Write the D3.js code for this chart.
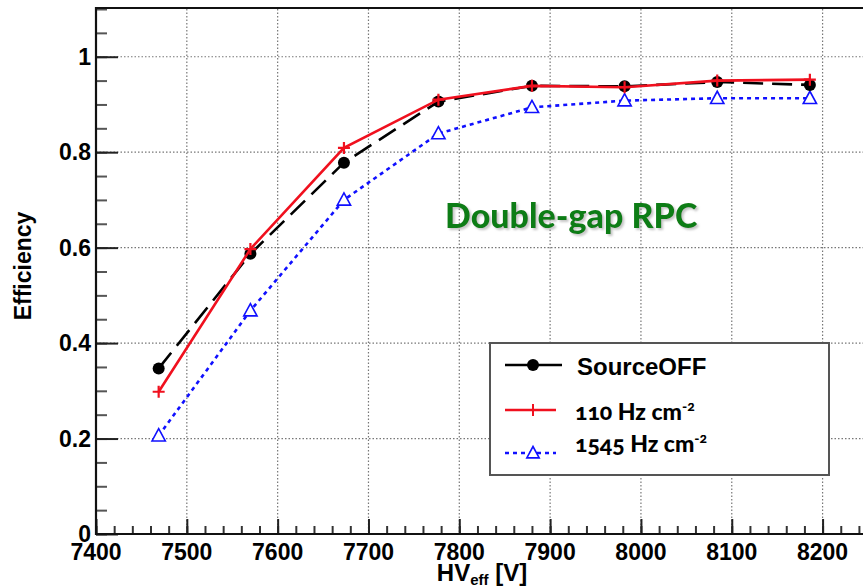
<!DOCTYPE html>
<html>
<head>
<meta charset="utf-8">
<script src="https://cdn.jsdelivr.net/npm/d3@7"></script>
<style>
  html, body { margin: 0; padding: 0; background: #fff; }
  svg { display: block; }
  .tick-label { font-family: "Liberation Sans", Arial, Helvetica, sans-serif; font-weight: bold; font-size: 23px; fill: #000; }
  .axis-title { font-family: "Liberation Sans", Arial, Helvetica, sans-serif; font-weight: bold; fill: #000; }
  .callout { font-family: Lato, "Open Sans", sans-serif; font-weight: bold; }
</style>
</head>
<body>
<svg id="chart" width="863" height="588"></svg>
<script>
// High voltage settings (effective HV, volts)
const hvEff = [7469, 7570, 7673, 7777, 7880, 7982, 8084, 8186];

// Efficiency per irradiation condition
const effSourceOff = [0.347, 0.587, 0.778, 0.906, 0.939, 0.938, 0.947, 0.941];
const eff110 = [0.298, 0.597, 0.809, 0.910, 0.939, 0.936, 0.950, 0.952];
const eff1545 = [0.206, 0.468, 0.700, 0.839, 0.894, 0.908, 0.913, 0.913];

// Axis ticks
const xMajorTicks = [7400, 7500, 7600, 7700, 7800, 7900, 8000, 8100, 8200];
const yMajorTicks = [0, 0.2, 0.4, 0.6, 0.8, 1];
const yTickLabels = ["0", "0.2", "0.4", "0.6", "0.8", "1"];

// Legend entries
const legendLabels = ["SourceOFF", "110 Hz cm", "1545 Hz cm"];
const legendSup = ["", "-2", "-2"];

const svg = d3.select("#chart");
const frameL = 96, frameR = 868, frameT = 9, frameB = 534;

const x = d3.scaleLinear().domain([7400, 8250]).range([frameL, frameR]);
const y = d3.scaleLinear().domain([0, 1.1]).range([frameB, frameT]);

// Soft shadow for the callout text
const defs = svg.append("defs");
defs.append("filter").attr("id", "soft-shadow")
  .attr("x", "-5%").attr("y", "-20%").attr("width", "115%").attr("height", "150%")
  .append("feDropShadow")
  .attr("dx", 2).attr("dy", 2).attr("stdDeviation", 1)
  .attr("flood-color", "#999").attr("flood-opacity", 0.55);

// Grid lines
const grid = svg.append("g");
grid.selectAll("line.gx").data(xMajorTicks.slice(1)).join("line")
  .attr("class", "gx")
  .attr("x1", d => x(d)).attr("x2", d => x(d))
  .attr("y1", frameT).attr("y2", frameB)
  .attr("stroke", "#777").attr("stroke-width", 1.2).attr("stroke-dasharray", "1.5,2");
grid.selectAll("line.gy").data(yMajorTicks.slice(1)).join("line")
  .attr("class", "gy")
  .attr("x1", frameL).attr("x2", frameR)
  .attr("y1", d => y(d)).attr("y2", d => y(d))
  .attr("stroke", "#777").attr("stroke-width", 1.2).attr("stroke-dasharray", "1.5,2");

// Axes (inward ticks)
const xAxisMajor = d3.axisTop(x).tickValues(xMajorTicks).tickSize(15).tickFormat("");
const xAxisMinor = d3.axisTop(x).tickValues(d3.range(7400, 8260, 20)).tickSize(8).tickFormat("");
const yAxisMajor = d3.axisRight(y).tickValues(yMajorTicks).tickSize(22).tickFormat("");
const yAxisMinor = d3.axisRight(y).tickValues(d3.range(0, 1.101, 0.05)).tickSize(11).tickFormat("");

function styleAxis(g, color) {
  g.select(".domain").remove();
  g.selectAll(".tick line").attr("stroke", color).attr("stroke-width", 2);
}
svg.append("g").attr("transform", `translate(0,${frameB})`).call(xAxisMinor).call(g => styleAxis(g, "#333"));
svg.append("g").attr("transform", `translate(0,${frameB})`).call(xAxisMajor).call(g => styleAxis(g, "#222"));
svg.append("g").attr("transform", `translate(${frameL},0)`).call(yAxisMinor).call(g => styleAxis(g, "#555"));
svg.append("g").attr("transform", `translate(${frameL},0)`).call(yAxisMajor).call(g => styleAxis(g, "#222"));

// Frame
svg.append("path")
  .attr("d", `M${frameR},${frameT - 1}H${frameL}V${frameB}H${frameR}`)
  .attr("fill", "none").attr("stroke", "#111").attr("stroke-width", 2.2);

// Tick labels
svg.append("g").selectAll("text").data(xMajorTicks).join("text")
  .attr("class", "tick-label")
  .attr("x", d => x(d)).attr("y", 560)
  .attr("text-anchor", "middle")
  .text(d => d);
svg.append("g").selectAll("text").data(yMajorTicks).join("text")
  .attr("class", "tick-label")
  .attr("x", 91).attr("y", d => y(d) + 8)
  .attr("text-anchor", "end")
  .text((d, i) => yTickLabels[i]);

// Axis titles
const xt = svg.append("text").attr("class", "axis-title")
  .attr("x", 482).attr("y", 581).attr("text-anchor", "middle")
  .style("font-size", "24px");
xt.append("tspan").text("HV");
xt.append("tspan").attr("dy", 4).style("font-size", "15px").text("eff");
xt.append("tspan").attr("dy", -4).text(" [V]");

svg.append("text").attr("class", "axis-title")
  .attr("transform", "translate(31,266) rotate(-90)")
  .attr("text-anchor", "middle")
  .style("font-size", "23px")
  .text("Efficiency");

// Series
const line = d3.line().x(d => x(d[0])).y(d => y(d[1]));
const pts = vals => hvEff.map((h, i) => [h, vals[i]]);

const triPath = (cx, cy, s) => `M${cx},${cy - s}L${cx + s * 0.95},${cy + s * 0.75}L${cx - s * 0.95},${cy + s * 0.75}Z`;
const plusPath = (cx, cy, s) => `M${cx - s},${cy}H${cx + s}M${cx},${cy - s}V${cy + s}`;

// 1545 Hz/cm2: blue dotted with open triangles
svg.append("path").datum(pts(eff1545)).attr("d", line)
  .attr("fill", "none").attr("stroke", "#1010ff").attr("stroke-width", 2.6)
  .attr("stroke-dasharray", "4,4");
svg.append("g").selectAll("path").data(pts(eff1545)).join("path")
  .attr("d", d => triPath(x(d[0]), y(d[1]), 7))
  .attr("fill", "#fff").attr("stroke", "#1010ff").attr("stroke-width", 1.6);

// Source OFF: black long-dashed with filled circles
svg.append("path").datum(pts(effSourceOff)).attr("d", line)
  .attr("fill", "none").attr("stroke", "#000").attr("stroke-width", 2.6)
  .attr("stroke-dasharray", "20,9");
svg.append("g").selectAll("circle").data(pts(effSourceOff)).join("circle")
  .attr("cx", d => x(d[0])).attr("cy", d => y(d[1])).attr("r", 6)
  .attr("fill", "#000");

// 110 Hz/cm2: red solid with plus markers
svg.append("path").datum(pts(eff110)).attr("d", line)
  .attr("fill", "none").attr("stroke", "#f0101e").attr("stroke-width", 2.6);
svg.append("g").selectAll("path").data(pts(eff110)).join("path")
  .attr("d", d => plusPath(x(d[0]), y(d[1]), 6))
  .attr("fill", "none").attr("stroke", "#f0101e").attr("stroke-width", 2.2);

// Callout label
svg.append("text").attr("class", "callout")
  .attr("x", 445).attr("y", 228)
  .attr("fill", "#0f7d14")
  .attr("filter", "url(#soft-shadow)")
  .style("font-size", "34px").style("font-weight", 900)
  .text("Double-gap RPC");

// Legend
const lg = svg.append("g");
lg.append("rect").attr("x", 490).attr("y", 343).attr("width", 339).attr("height", 132)
  .attr("fill", "#fff").attr("stroke", "#555").attr("stroke-width", 2);

const rows = [365, 410, 453];
// SourceOFF
lg.append("line").attr("x1", 505).attr("x2", 562).attr("y1", rows[0]).attr("y2", rows[0])
  .attr("stroke", "#000").attr("stroke-width", 2.6);
lg.append("circle").attr("cx", 533).attr("cy", rows[0]).attr("r", 6).attr("fill", "#000");
lg.append("text").attr("class", "axis-title").attr("x", 577).attr("y", 375)
  .style("font-size", "24px").text(legendLabels[0]);
// 110
lg.append("line").attr("x1", 505).attr("x2", 556).attr("y1", rows[1]).attr("y2", rows[1])
  .attr("stroke", "#f0101e").attr("stroke-width", 2.6);
lg.append("path").attr("d", plusPath(533, rows[1], 6))
  .attr("stroke", "#f0101e").attr("stroke-width", 2).attr("fill", "none");
// 1545
lg.append("line").attr("x1", 505).attr("x2", 556).attr("y1", rows[2]).attr("y2", rows[2])
  .attr("stroke", "#1010ff").attr("stroke-width", 2.6).attr("stroke-dasharray", "4,4");
lg.append("path").attr("d", triPath(533, rows[2], 6.5))
  .attr("fill", "#fff").attr("stroke", "#1010ff").attr("stroke-width", 1.6);

[1, 2].forEach((k, j) => {
  const t = lg.append("text").attr("class", "callout")
    .attr("x", 575).attr("y", j === 0 ? 420 : 452)
    .attr("fill", "#000")
    .style("font-size", "23px").style("font-weight", 900)
    .style("font-variant-numeric", "oldstyle-nums");
  t.append("tspan").text(legendLabels[k]);
  t.append("tspan").attr("dy", -9).style("font-size", "14px").text(legendSup[k]);
});
</script>
</body>
</html>
